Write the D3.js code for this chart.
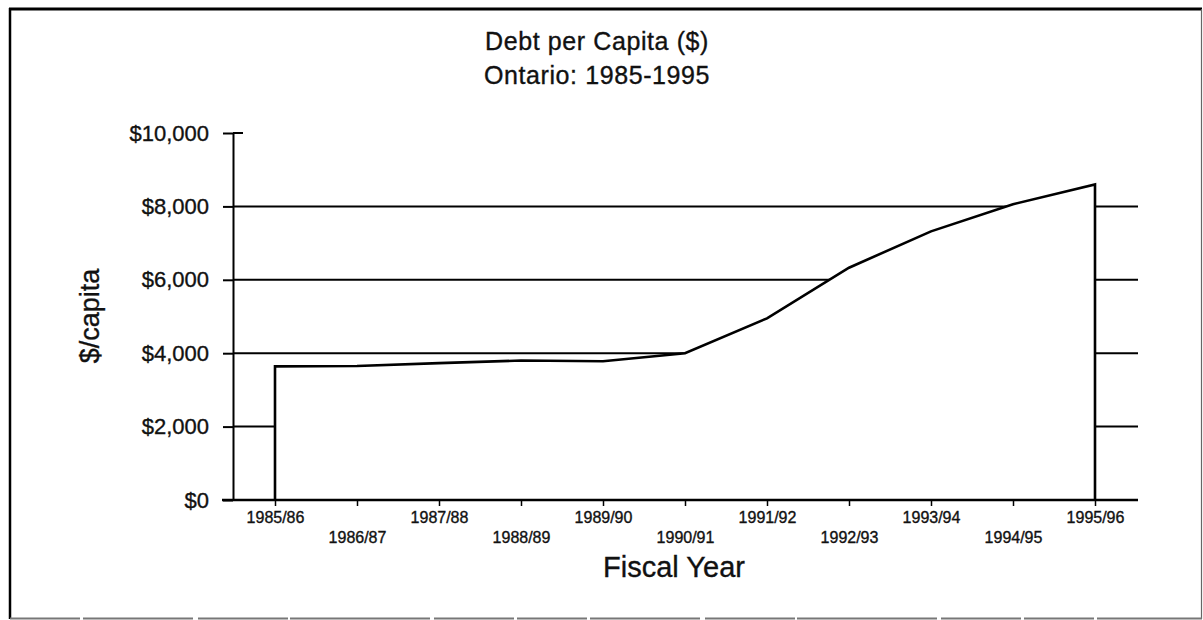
<!DOCTYPE html>
<html>
<head>
<meta charset="utf-8">
<script src="https://cdn.jsdelivr.net/npm/d3@7"></script>
<style>
  html, body { margin: 0; padding: 0; background: #fff; }
  svg { display: block; font-family: "Liberation Sans", Arial, Helvetica, sans-serif; }
  svg text { stroke: #111; stroke-width: 0.35px; }
</style>
</head>
<body>
<svg id="chart" width="1203" height="620"></svg>
<script>
// Fiscal years and debt per capita (dollars)
const years = ["1985/86", "1986/87", "1987/88", "1988/89", "1989/90", "1990/91",
               "1991/92", "1992/93", "1993/94", "1994/95", "1995/96"];
const debtPerCapita = [3640, 3650, 3730, 3800, 3780, 4000, 4950, 6330, 7320, 8060, 8600];
const yTicks = [0, 2000, 4000, 6000, 8000, 10000];
const gridValues = [2000, 4000, 6000, 8000];

const svg = d3.select("#chart");

// Outer frame
svg.append("line").attr("x1", 9).attr("x2", 1202).attr("y1", 9).attr("y2", 9)
  .attr("stroke", "#000").attr("stroke-width", 3);
svg.append("line").attr("x1", 10).attr("x2", 10).attr("y1", 8).attr("y2", 619)
  .attr("stroke", "#000").attr("stroke-width", 2.5);
svg.append("line").attr("x1", 1201.5).attr("x2", 1201.5).attr("y1", 9).attr("y2", 619)
  .attr("stroke", "#666").attr("stroke-width", 1.2);
svg.append("line").attr("x1", 10).attr("x2", 1202).attr("y1", 618.5).attr("y2", 618.5)
  .attr("stroke", "#777").attr("stroke-width", 2)
  .attr("stroke-dasharray", "70 3 110 5 90 2 140 4 80 3");

// Scales
const x = d3.scalePoint().domain(years).range([275, 1095]);
const y = d3.scaleLinear().domain([0, 10000]).range([500, 133]);
const axisLeftX = 233, plotRight = 1138;

// Title
const title = svg.append("text").attr("text-anchor", "middle")
  .attr("font-size", 25).attr("letter-spacing", 0.6).attr("fill", "#111");
title.append("tspan").attr("x", 597).attr("y", 50).text("Debt per Capita ($)");
title.append("tspan").attr("x", 597).attr("y", 84).text("Ontario: 1985-1995");

// Horizontal gridlines (behind the filled area)
svg.append("g").selectAll("line").data(gridValues).join("line")
  .attr("x1", axisLeftX).attr("x2", plotRight)
  .attr("y1", d => y(d)).attr("y2", d => y(d))
  .attr("stroke", "#000").attr("stroke-width", 2);

// White-filled area hides the gridlines underneath it
const data = years.map((yr, i) => ({ yr, v: debtPerCapita[i] }));
svg.append("path").datum(data)
  .attr("d", d3.area().x(d => x(d.yr)).y0(y(0)).y1(d => y(d.v)))
  .attr("fill", "#fff");

// Outline of the area: left edge, top line, right edge
const outline = [{ yr: years[0], v: 0 }, ...data, { yr: years[years.length - 1], v: 0 }];
svg.append("path").datum(outline)
  .attr("d", d3.line().x(d => x(d.yr)).y(d => y(d.v)))
  .attr("fill", "none").attr("stroke", "#000").attr("stroke-width", 2.6)
  .attr("stroke-linejoin", "miter");

// Y axis
const yAxis = svg.append("g").attr("transform", `translate(${axisLeftX},0)`)
  .call(d3.axisLeft(y).tickValues(yTicks).tickFormat(d3.format("$,"))
    .tickSize(10).tickSizeOuter(0).tickPadding(14));
yAxis.select(".domain").attr("stroke", "#000").attr("stroke-width", 2);
yAxis.selectAll(".tick line").attr("stroke", "#000").attr("stroke-width", 2);
yAxis.selectAll(".tick text").attr("font-size", 22).attr("fill", "#111")
  .attr("font-family", "Liberation Sans, Arial, sans-serif");
// cap on the top tick extends to the right
svg.append("line").attr("x1", axisLeftX).attr("x2", axisLeftX + 10)
  .attr("y1", y(10000)).attr("y2", y(10000))
  .attr("stroke", "#000").attr("stroke-width", 2);

// X axis
const xAxis = svg.append("g").attr("transform", `translate(0,${y(0)})`)
  .call(d3.axisBottom(x).tickSize(6).tickSizeOuter(0).tickPadding(6));
xAxis.select(".domain").remove();
xAxis.selectAll(".tick line").attr("stroke", "#000").attr("stroke-width", 1.5);
xAxis.selectAll(".tick text")
  .attr("font-size", 16).attr("fill", "#111")
  .attr("font-family", "Liberation Sans, Arial, sans-serif")
  .attr("dy", null)
  .attr("y", (d, i) => (i % 2 === 0 ? 23 : 43));
svg.append("line").attr("x1", 222).attr("x2", plotRight)
  .attr("y1", y(0)).attr("y2", y(0))
  .attr("stroke", "#000").attr("stroke-width", 2.5);

// Axis titles
svg.append("text").attr("x", 674).attr("y", 577).attr("text-anchor", "middle")
  .attr("font-size", 29).attr("fill", "#111").text("Fiscal Year");
svg.append("text").attr("transform", "translate(99,316) rotate(-90)")
  .attr("text-anchor", "middle").attr("font-size", 27).attr("fill", "#111")
  .text("$/capita");
</script>
</body>
</html>
